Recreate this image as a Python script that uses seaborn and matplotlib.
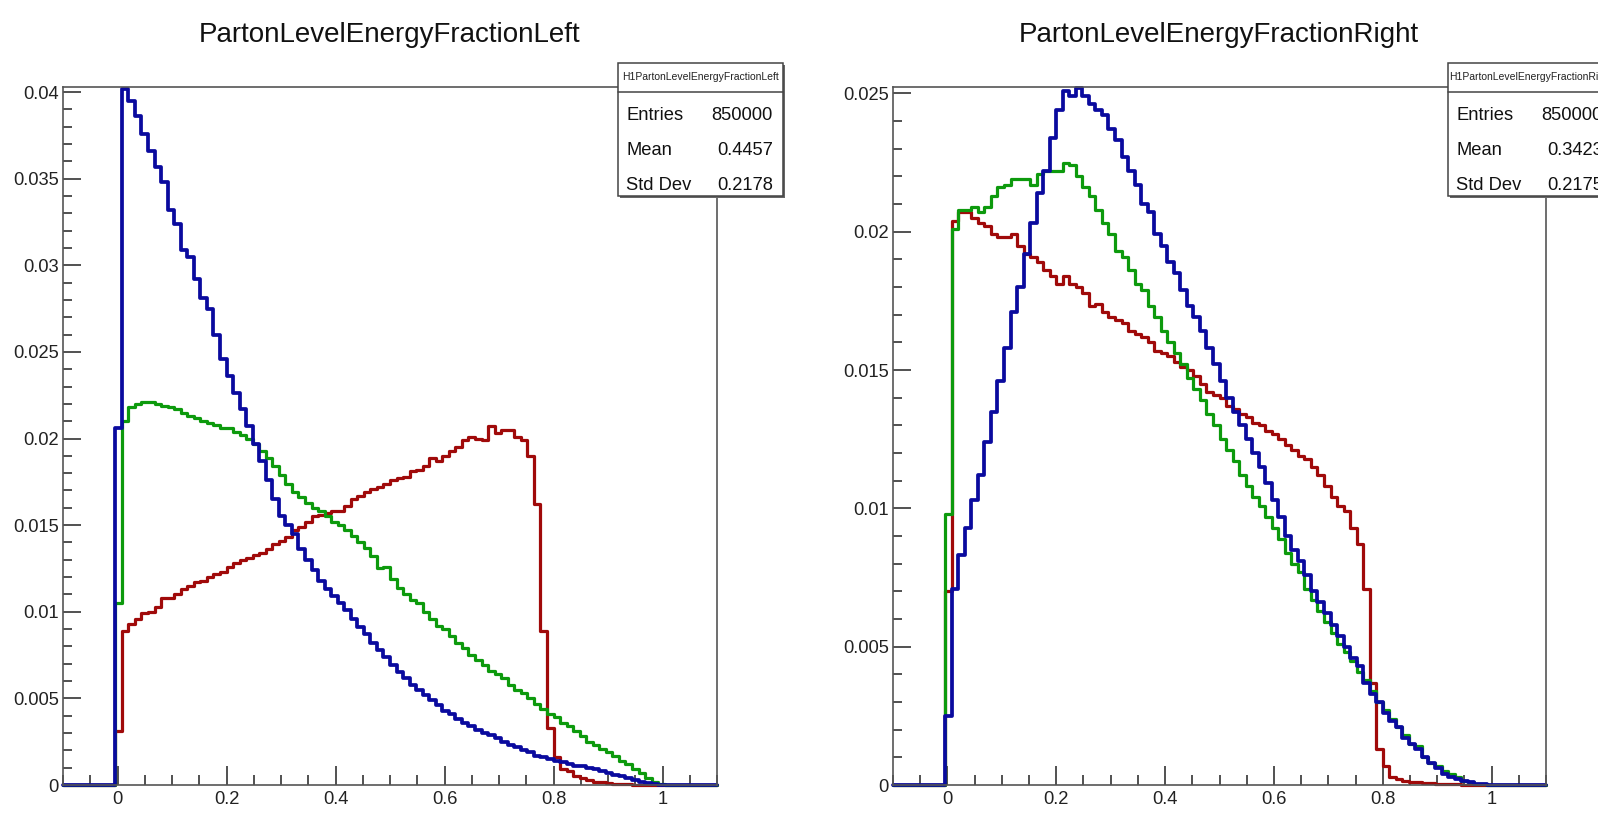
import numpy as np
import pandas as pd
import matplotlib
matplotlib.use("Agg")
import matplotlib.pyplot as plt
import seaborn as sns
from matplotlib.patches import Rectangle
from matplotlib.lines import Line2D
from matplotlib.ticker import MultipleLocator, FuncFormatter

# Histogram binning: 100 bins on [-0.1, 1.1]; bins before index 8 are empty
N_BINS = 100
X_MIN, X_MAX = -0.1, 1.1
FIRST_FILLED_BIN = 8

# Left: normalised bin contents, starting at bin 8 (ten bins per row)
left_red = [0.0031, 0.0089, 0.0093, 0.0096, 0.0099, 0.0100, 0.0103, 0.0108, 0.0108, 0.0110,
            0.0113, 0.0115, 0.0117, 0.0118, 0.0120, 0.0122, 0.0123, 0.0126, 0.0128, 0.0130,
            0.0131, 0.0133, 0.0134, 0.0136, 0.0139, 0.0141, 0.0143, 0.0147, 0.0149, 0.0152,
            0.0155, 0.0156, 0.0157, 0.0158, 0.0158, 0.0161, 0.0165, 0.0167, 0.0169, 0.0171,
            0.0172, 0.0174, 0.0176, 0.0177, 0.0178, 0.0181, 0.0182, 0.0184, 0.0189, 0.0187,
            0.0190, 0.0193, 0.0195, 0.0199, 0.0201, 0.0200, 0.0199, 0.0207, 0.0203, 0.0205,
            0.0205, 0.0201, 0.0199, 0.0190, 0.0162, 0.0089, 0.0033, 0.0016, 0.0009, 0.0008,
            0.0005, 0.0004, 0.0003, 0.0002, 0.00015, 0.0001, 0.00008, 0.00005, 0.00003, 0.00002,
            0.00001, 0.00001, 0.0, 0.0]
left_green = [0.0105, 0.0210, 0.0218, 0.0220, 0.0221, 0.0221, 0.0220, 0.0219, 0.0218, 0.0217,
              0.0215, 0.0213, 0.0212, 0.0210, 0.0209, 0.0208, 0.0206, 0.0206, 0.0204, 0.0202,
              0.0200, 0.0197, 0.0193, 0.0189, 0.0184, 0.0179, 0.0174, 0.0169, 0.0166, 0.0163,
              0.0160, 0.0158, 0.0155, 0.0152, 0.0150, 0.0147, 0.0144, 0.0140, 0.0137, 0.0132,
              0.0125, 0.0126, 0.0119, 0.0114, 0.0110, 0.0107, 0.0105, 0.0100, 0.0096, 0.0092,
              0.0090, 0.0086, 0.0082, 0.0079, 0.0075, 0.0072, 0.0069, 0.0066, 0.0064, 0.0062,
              0.0058, 0.0055, 0.0053, 0.0050, 0.0047, 0.0044, 0.0041, 0.0039, 0.0036, 0.0034,
              0.0031, 0.0028, 0.0025, 0.0023, 0.0021, 0.0019, 0.0017, 0.0014, 0.0012, 0.0009,
              0.0007, 0.0004, 0.0002, 0.00003]
left_blue = [0.0206, 0.0402, 0.0395, 0.0386, 0.0376, 0.0366, 0.0357, 0.0348, 0.0332, 0.0324,
             0.0309, 0.0305, 0.0292, 0.0281, 0.0275, 0.0260, 0.0246, 0.0236, 0.0226, 0.0217,
             0.0207, 0.0197, 0.0187, 0.0176, 0.0165, 0.0155, 0.0150, 0.0145, 0.0136, 0.0130,
             0.0124, 0.0118, 0.0113, 0.0109, 0.0105, 0.0101, 0.0096, 0.0091, 0.0087, 0.0082,
             0.0078, 0.0074, 0.0069, 0.0065, 0.0062, 0.0058, 0.0055, 0.0052, 0.0049, 0.0046,
             0.0043, 0.0041, 0.0038, 0.0036, 0.0034, 0.0032, 0.0030, 0.0029, 0.0027, 0.0025,
             0.0023, 0.0022, 0.0020, 0.0019, 0.0017, 0.0016, 0.0015, 0.0014, 0.0013, 0.0012,
             0.0011, 0.0011, 0.0010, 0.0009, 0.0008, 0.0007, 0.0006, 0.0005, 0.0004, 0.0003,
             0.0002, 0.00012, 0.00006, 0.00002]

# Right: normalised bin contents, starting at bin 8 (ten bins per row)
right_red = [0.0070, 0.0204, 0.0207, 0.0207, 0.0205, 0.0203, 0.0202, 0.0199, 0.0198, 0.0198,
             0.0199, 0.0195, 0.0192, 0.0191, 0.0189, 0.0186, 0.0184, 0.0181, 0.0184, 0.0181,
             0.0180, 0.0178, 0.0173, 0.0174, 0.0171, 0.0169, 0.0168, 0.0167, 0.0164, 0.0163,
             0.0162, 0.0160, 0.0157, 0.0156, 0.0155, 0.0153, 0.0151, 0.0150, 0.0148, 0.0145,
             0.0142, 0.0141, 0.0140, 0.0137, 0.0136, 0.0134, 0.0133, 0.0131, 0.0130, 0.0128,
             0.0127, 0.0125, 0.0123, 0.0121, 0.0119, 0.0118, 0.0115, 0.0112, 0.0108, 0.0104,
             0.0101, 0.0099, 0.0093, 0.0087, 0.0071, 0.0037, 0.0013, 0.0007, 0.0003, 0.0002,
             0.00015, 0.00012, 0.0001, 0.00008, 0.00006, 0.00005, 0.00004, 0.00003, 0.00002, 0.00001,
             0.00001, 0.0, 0.0, 0.0]
right_green = [0.0098, 0.0201, 0.0208, 0.0208, 0.0209, 0.0207, 0.0209, 0.0213, 0.0216, 0.0217,
               0.0219, 0.0219, 0.0219, 0.0217, 0.0221, 0.0222, 0.0222, 0.0222, 0.0225, 0.0224,
               0.0220, 0.0216, 0.0213, 0.0208, 0.0203, 0.0199, 0.0193, 0.0191, 0.0186, 0.0181,
               0.0179, 0.0173, 0.0169, 0.0164, 0.0160, 0.0156, 0.0152, 0.0147, 0.0143, 0.0139,
               0.0134, 0.0130, 0.0125, 0.0121, 0.0117, 0.0112, 0.0108, 0.0104, 0.0101, 0.0097,
               0.0093, 0.0089, 0.0084, 0.0080, 0.0077, 0.0071, 0.0067, 0.0063, 0.0059, 0.0055,
               0.0051, 0.0048, 0.0045, 0.0041, 0.0038, 0.0034, 0.0030, 0.0027, 0.0024, 0.0021,
               0.0018, 0.0015, 0.0014, 0.0010, 0.0008, 0.0007, 0.0005, 0.0004, 0.0003, 0.00015,
               0.0001, 0.00005, 0.00002, 0.0]
right_blue = [0.0025, 0.0071, 0.0083, 0.0093, 0.0103, 0.0112, 0.0124, 0.0135, 0.0146, 0.0158,
              0.0171, 0.0180, 0.0192, 0.0203, 0.0214, 0.0222, 0.0234, 0.0244, 0.0251, 0.0249,
              0.0252, 0.0249, 0.0246, 0.0244, 0.0242, 0.0237, 0.0233, 0.0227, 0.0222, 0.0217,
              0.0210, 0.0207, 0.0199, 0.0195, 0.0189, 0.0185, 0.0179, 0.0173, 0.0169, 0.0164,
              0.0158, 0.0152, 0.0146, 0.0140, 0.0135, 0.0130, 0.0125, 0.0120, 0.0115, 0.0109,
              0.0103, 0.0097, 0.0090, 0.0085, 0.0081, 0.0076, 0.0070, 0.0066, 0.0062, 0.0058,
              0.0054, 0.0050, 0.0046, 0.0043, 0.0037, 0.0033, 0.0030, 0.0026, 0.0023, 0.0021,
              0.0017, 0.0015, 0.0013, 0.0010, 0.0008, 0.0006, 0.0004, 0.0003, 0.0002, 0.00015,
              0.0001, 0.00005, 0.00003, 0.00001]

titles = ["PartonLevelEnergyFractionLeft", "PartonLevelEnergyFractionRight"]
stat_box_names = ["H1PartonLevelEnergyFractionLeft", "H1PartonLevelEnergyFractionRight"]
stat_labels = ["Entries", "Mean", "Std Dev"]
left_stats = ["850000", "0.4457", "0.2178"]
right_stats = ["850000", "0.3423", "0.2175"]
y_tops = [0.04029, 0.02523]

RED, GREEN, BLUE = "#a00a0a", "#0d9a0d", "#0a0a9e"

sns.set_theme(style="white")
plt.rcParams["font.family"] = ["Liberation Sans", "DejaVu Sans"]

W, H = 1598, 819
fig = plt.figure(figsize=(W / 100, H / 100), dpi=100)
fig.patch.set_facecolor("white")


def px_rect(left, top, right, bottom):
    return [left / W, 1 - bottom / H, (right - left) / W, (bottom - top) / H]


def fx(x):
    return x / W


def fy(y):
    return 1 - y / H


edges = np.linspace(X_MIN, X_MAX, N_BINS + 1)
centers = 0.5 * (edges[:-1] + edges[1:])
bin_edges = [float(e) for e in edges]


def full_series(vals):
    arr = np.zeros(N_BINS)
    arr[FIRST_FILLED_BIN:FIRST_FILLED_BIN + len(vals)] = vals
    return arr


ax_left = fig.add_axes(px_rect(63, 87, 717, 785))
ax_right = fig.add_axes(px_rect(893, 87, 1546, 785))

panels = [
    (ax_left, [(left_red, RED, 2.3), (left_green, GREEN, 2.3), (left_blue, BLUE, 2.7)], y_tops[0]),
    (ax_right, [(right_red, RED, 2.3), (right_green, GREEN, 2.3), (right_blue, BLUE, 2.7)], y_tops[1]),
]

tick_fmt = FuncFormatter(lambda v, pos: f"{v:g}" if abs(v) > 1e-12 else "0")

for ax, series, ytop in panels:
    for vals, color, lw in series:
        df = pd.DataFrame({"frac": centers, "w": full_series(vals)})
        sns.histplot(data=df, x="frac", weights="w", bins=bin_edges, element="step",
                     fill=False, color=color, linewidth=lw, ax=ax, clip_on=False)
    ax.set_xlim(X_MIN, X_MAX)
    ax.set_ylim(0, ytop)
    ax.set_xlabel("")
    ax.set_ylabel("")
    ax.xaxis.set_major_locator(MultipleLocator(0.2))
    ax.xaxis.set_minor_locator(MultipleLocator(0.05))
    ax.yaxis.set_major_locator(MultipleLocator(0.005))
    ax.yaxis.set_minor_locator(MultipleLocator(0.001))
    ax.xaxis.set_major_formatter(tick_fmt)
    ax.yaxis.set_major_formatter(tick_fmt)
    ax.tick_params(which="both", direction="in", top=False, right=False,
                   bottom=True, left=True, color="#222222", width=1.1)
    ax.tick_params(which="major", axis="y", length=13, pad=3, labelsize=13.2, labelcolor="#222222")
    ax.tick_params(which="minor", axis="y", length=6.5)
    ax.tick_params(which="major", axis="x", length=14, pad=4, labelsize=13.2, labelcolor="#222222")
    ax.tick_params(which="minor", axis="x", length=7)
    for sp in ax.spines.values():
        sp.set_visible(True)
        sp.set_color("#555555")
        sp.set_linewidth(1.2)
    ax.grid(False)

# Titles above each frame
fig.text(fx(390), fy(42), titles[0], ha="center", va="baseline", fontsize=20, color="#111111")
fig.text(fx(1219), fy(42), titles[1], ha="center", va="baseline", fontsize=20, color="#111111")


def stats_box(left, name, values):
    top, bottom, width = 63, 196, 165
    shadow = Rectangle((fx(left + 1.5), fy(bottom + 1.5)), width / W, (bottom - top) / H,
                       transform=fig.transFigure, facecolor="#666666", edgecolor="none", zorder=9)
    box = Rectangle((fx(left), fy(bottom)), width / W, (bottom - top) / H,
                    transform=fig.transFigure, facecolor="white", edgecolor="#444444",
                    linewidth=1.1, zorder=10)
    fig.add_artist(shadow)
    fig.add_artist(box)
    fig.add_artist(Line2D([fx(left), fx(left + width)], [fy(92), fy(92)],
                          transform=fig.transFigure, color="#444444", linewidth=1.1, zorder=11))
    fig.text(fx(left + width / 2), fy(80), name, ha="center", va="baseline",
             fontsize=7.5, color="#222222", zorder=12)
    for label, val, base in zip(stat_labels, values, [120, 155, 190]):
        fig.text(fx(left + 8), fy(base), label, ha="left", va="baseline",
                 fontsize=13.2, color="#111111", zorder=12)
        fig.text(fx(left + 155), fy(base), val, ha="right", va="baseline",
                 fontsize=13.2, color="#111111", zorder=12)


stats_box(618, stat_box_names[0], left_stats)
stats_box(1448, stat_box_names[1], right_stats)

fig.savefig("out.png", dpi=100, facecolor="white")
